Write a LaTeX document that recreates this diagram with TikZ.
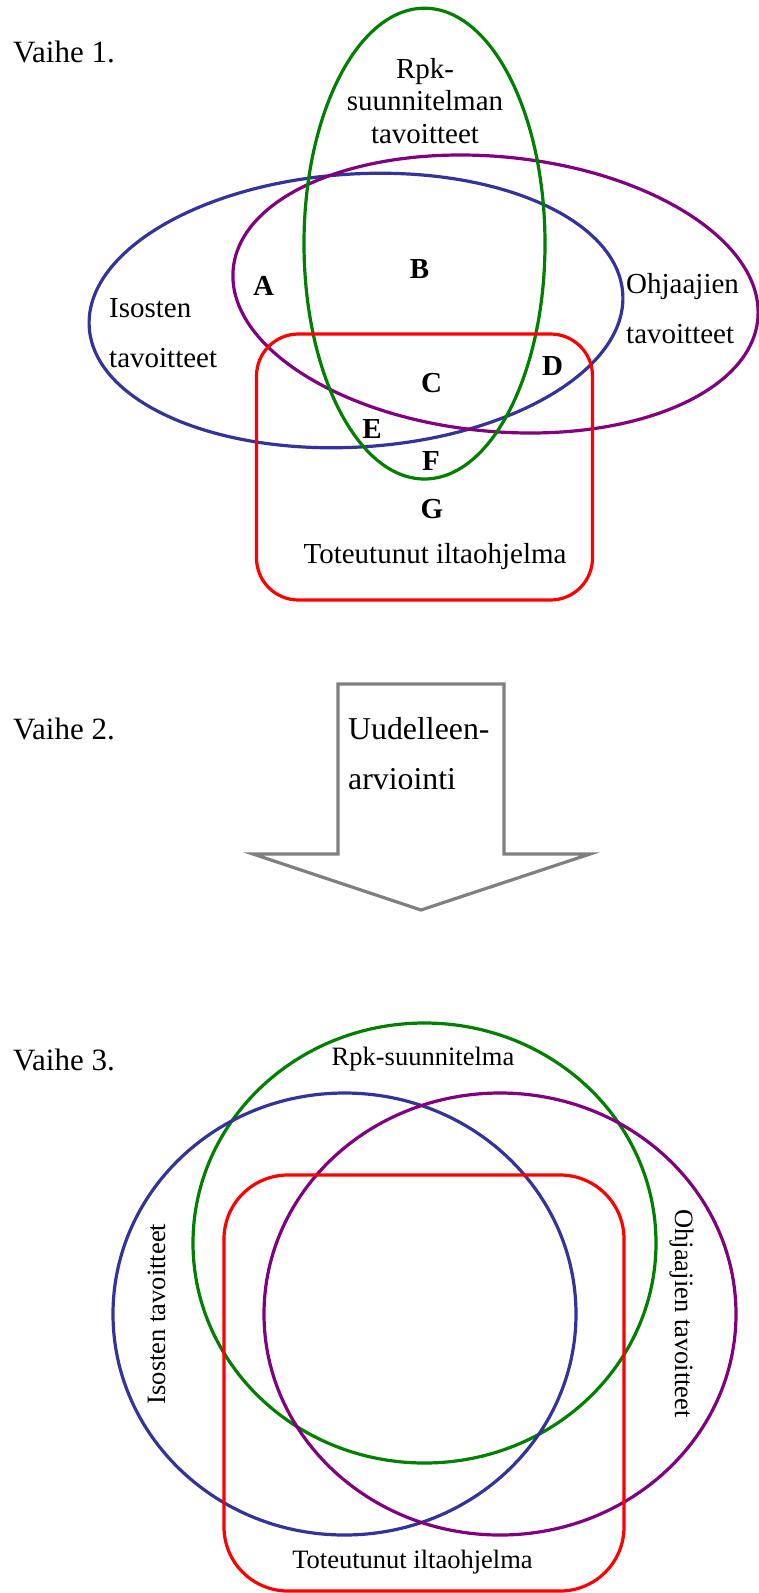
\documentclass[tikz,border=0pt]{standalone}
\usepackage{fontspec}
\setmainfont{Liberation Serif}
\definecolor{vgreen}{RGB}{0,128,0}
\definecolor{vblue}{RGB}{51,51,153}
\definecolor{vpurple}{RGB}{128,0,128}
\definecolor{vred}{RGB}{255,0,0}
\definecolor{vgray}{RGB}{128,128,128}
\begin{document}
\begin{tikzpicture}[x=1pt,y=-1pt,
  curve/.style={line width=3.2pt},
  lbl/.style={inner sep=0pt, font=\fontsize{29}{33}\selectfont},
  lblc/.style={lbl, anchor=base},
  lbll/.style={lbl, anchor=base west},
  letter/.style={inner sep=0pt, anchor=base, font=\fontsize{29}{33}\selectfont\bfseries},
  stage/.style={inner sep=0pt, anchor=base west, font=\fontsize{31}{35}\selectfont},
  arrowtext/.style={inner sep=0pt, anchor=base west, font=\fontsize{31.8}{36}\selectfont},
  small/.style={inner sep=0pt, anchor=base, font=\fontsize{26.5}{30}\selectfont}]
\useasboundingbox (0,0) rectangle (759,1593);
\fill[white] (0,0) rectangle (759,1593);

% ---------- Stage 1 ----------
\node[stage] (v1) at (13,62) {Vaihe 1.};
\draw[curve, vblue, rotate around={3.6:(356,310.5)}] (356,310.5) ellipse [x radius=267.3, y radius=136.5];
\draw[curve, vpurple, rotate around={-5.5:(495.5,294)}] (495.5,294) ellipse [x radius=263.5, y radius=137.3];
\draw[curve, vgreen] (424.5,243.6) ellipse [x radius=120.5, y radius=235.4];
\draw[curve, vred, rounded corners=42pt] (256.5,334) rectangle (592.5,600);

\node[lblc] (rpk1) at (425,78) {Rpk-};
\node[lblc] (rpk2) at (425,110.5) {suunnitelman};
\node[lblc] (rpk3) at (425,143) {tavoitteet};
\node[lbll] (is1) at (109,317) {Isosten};
\node[lbll] (is2) at (109,367) {tavoitteet};
\node[lbll] (oh1) at (626,293) {Ohjaajien};
\node[lbll] (oh2) at (626,343) {tavoitteet};
\node[lblc] (tot1) at (435,563) {Toteutunut iltaohjelma};
\node[letter] (A) at (263.5,295) {A};
\node[letter] (B) at (419.5,278) {B};
\node[letter] (C) at (431.5,392) {C};
\node[letter] (D) at (552.5,375) {D};
\node[letter] (E) at (372,438) {E};
\node[letter] (F) at (431,470) {F};
\node[letter] (G) at (432,518) {G};

% ---------- Stage 2 ----------
\node[stage] (v2) at (13,739) {Vaihe 2.};
\draw[curve, vgray, miter limit=10] (338,684) -- (504,684) -- (504,854) -- (590,854)
  -- (421,910) -- (253,854) -- (338,854) -- cycle;
\node[arrowtext] (uu1) at (348,739) {Uudelleen-};
\node[arrowtext] (uu2) at (348,789) {arviointi};

% ---------- Stage 3 ----------
\node[stage] (v3) at (13,1070) {Vaihe 3.};
\draw[curve, vgreen] (424.5,1243) ellipse [x radius=231.5, y radius=220];
\draw[curve, vblue] (344.5,1314) ellipse [x radius=231.5, y radius=221];
\draw[curve, vpurple] (500,1314) ellipse [x radius=236, y radius=221];
\draw[curve, vred, rounded corners=64pt] (224,1175) rectangle (624,1591);

\node[small] (rpk) at (423,1065) {Rpk-suunnitelma};
\node[small] (tot3) at (412.5,1568) {Toteutunut iltaohjelma};
\node[small, rotate=90] (is3) at (165,1314) {Isosten tavoitteet};
\node[small, rotate=-90] (oh3) at (675,1313.5) {Ohjaajien tavoitteet};
\end{tikzpicture}
\end{document}
